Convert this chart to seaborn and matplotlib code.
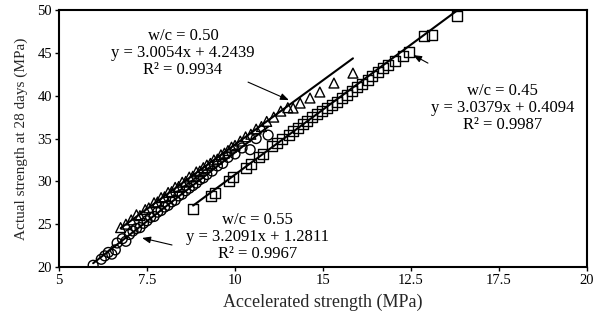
import numpy as np
import pandas as pd
import matplotlib
matplotlib.use("Agg")
import matplotlib.pyplot as plt
import seaborn as sns

# ---------------- data ----------------
# w/c = 0.45 (squares)
sq_x = [8.81, 9.32, 9.43, 9.83, 9.94, 10.31, 10.45, 10.68, 10.80, 11.05, 11.19, 11.34,
        11.53, 11.65, 11.79, 11.93, 12.05, 12.19, 12.33, 12.47, 12.61, 12.76, 12.90,
        13.04, 13.18, 13.32, 13.47, 13.61, 13.78, 13.89, 14.06, 14.20, 14.35, 14.55,
        14.77, 14.94, 15.37, 15.60, 16.31]
sq_y = [26.77, 28.29, 28.64, 30.04, 30.51, 31.56, 32.02, 32.84, 33.19, 34.12, 34.47, 34.94,
        35.41, 35.88, 36.23, 36.69, 37.04, 37.51, 37.86, 38.21, 38.56, 38.91, 39.26,
        39.73, 40.08, 40.54, 41.01, 41.36, 41.83, 42.30, 42.76, 43.23, 43.58, 44.05,
        44.63, 45.10, 46.96, 47.08, 49.30]

# w/c = 0.50 (triangles)
tr_x = [6.75, 6.90, 7.05, 7.20, 7.30, 7.45, 7.55, 7.70, 7.80, 7.90, 8.00, 8.10, 8.20,
        8.30, 8.40, 8.50, 8.60, 8.70, 8.80, 8.90, 9.00, 9.10, 9.20, 9.30, 9.40, 9.50,
        9.60, 9.70, 9.80, 9.90, 10.00, 10.15, 10.30, 10.45, 10.60, 10.75, 10.90, 11.10,
        11.30, 11.50, 11.65, 11.85, 12.13, 12.41, 12.81, 13.35]
tr_y = [24.60, 25.00, 25.50, 26.10, 26.00, 26.70, 26.90, 27.50, 27.60, 28.10, 28.20, 28.70,
        28.80, 29.30, 29.40, 29.90, 30.00, 30.50, 30.60, 31.10, 31.20, 31.60, 31.90, 32.10,
        32.50, 32.60, 33.10, 33.30, 33.60, 34.00, 34.20, 34.70, 35.20, 35.50, 36.10, 36.40,
        37.00, 37.50, 38.20, 38.60, 38.56, 39.14, 39.73, 40.43, 41.48, 42.64]

# w/c = 0.55 (circles)
ci_x = [5.97, 6.20, 6.30, 6.40, 6.50, 6.60, 6.65, 6.80, 6.90, 7.00, 7.10, 7.20, 7.30,
        7.40, 7.50, 7.60, 7.70, 7.80, 7.90, 8.00, 8.10, 8.20, 8.30, 8.40, 8.50, 8.60,
        8.70, 8.80, 8.90, 9.00, 9.10, 9.20, 9.35, 9.50, 9.65, 9.80, 10.00, 10.20, 10.43,
        10.60, 10.94]
ci_y = [20.20, 20.90, 21.30, 21.70, 21.50, 22.00, 22.80, 23.30, 23.00, 23.80, 24.20, 24.50,
        24.60, 25.10, 25.40, 25.80, 25.90, 26.40, 26.60, 27.00, 27.20, 27.60, 27.80, 28.30,
        28.50, 28.90, 29.20, 29.50, 29.80, 30.20, 30.40, 30.80, 31.20, 31.80, 32.10, 32.80,
        33.20, 33.90, 33.70, 35.00, 35.40]

wc_labels = ["0.45", "0.50", "0.55"]
slopes = [3.0379, 3.0054, 3.2091]
intercepts = [0.4094, 4.2439, 1.2811]
r2_values = ["0.9987", "0.9934", "0.9967"]

x_ticks = [5, 7.5, 10, 12.5, 15, 17.5, 20]
x_tick_labels = ["5", "7.5", "10", "15", "12.5", "17.5", "20"]
y_ticks = [20, 25, 30, 35, 40, 45, 50]

# ---------------- plot ----------------
sns.set_style("white")
plt.rcParams["font.family"] = ["Liberation Serif", "DejaVu Serif"]

fig = plt.figure(figsize=(5.96, 3.26), dpi=100)
ax = fig.add_axes([0.099, 0.181, 0.886, 0.788])

series = [(sq_x, sq_y, "s"), (tr_x, tr_y, "^"), (ci_x, ci_y, "o")]
for (xs, ys, mk) in series:
    df = pd.DataFrame({"x": xs, "y": ys})
    sns.scatterplot(data=df, x="x", y="y", marker=mk, s=50, facecolor="none",
                    edgecolor="black", linewidth=1.0, ax=ax, zorder=2)

for (xs, ys, mk), m, b in zip(series, slopes, intercepts):
    xx = np.array([min(xs), max(xs)])
    sns.lineplot(x=xx, y=m * xx + b, color="black", linewidth=1.5, ax=ax, zorder=3)

# annotations
ann = [
    (wc_labels[1], slopes[1], intercepts[1], r2_values[1], (8.52, 44.98), (10.37, 41.59), (11.53, 39.49)),
    (wc_labels[0], slopes[0], intercepts[0], r2_values[0], (17.59, 38.56), (15.48, 43.81), (15.06, 44.75)),
    (wc_labels[2], slopes[2], intercepts[2], r2_values[2], (10.63, 23.50), (8.21, 22.57), (7.36, 23.39)),
]
for wc, m, b, r2, tpos, tail, tip in ann:
    txt = f"w/c = {wc}\ny = {m:.4f}x + {b:.4f}\nR² = {r2}"
    ax.text(tpos[0], tpos[1], txt, ha="center", va="center", fontsize=12,
            linespacing=1.1, color="black")
    ax.annotate("", xy=tip, xytext=tail,
                arrowprops=dict(arrowstyle="-|>,head_length=0.5,head_width=0.2",
                                color="black", lw=0.8, shrinkA=0, shrinkB=0))

ax.set_xlim(5, 20)
ax.set_ylim(20, 50)
ax.set_xticks(x_ticks)
ax.set_xticklabels(x_tick_labels)
ax.set_yticks(y_ticks)
ax.tick_params(axis="both", direction="out", length=3, width=1, labelsize=10.5,
               colors="black", bottom=True, left=True, pad=2)
ax.set_xlabel("Accelerated strength (MPa)", fontsize=13, labelpad=5)
ax.set_ylabel("Actual strength at 28 days (MPa)", fontsize=11, labelpad=7)
for sp in ax.spines.values():
    sp.set_visible(True)
    sp.set_color("black")
    sp.set_linewidth(1.5)

fig.savefig("out.png", dpi=100)
